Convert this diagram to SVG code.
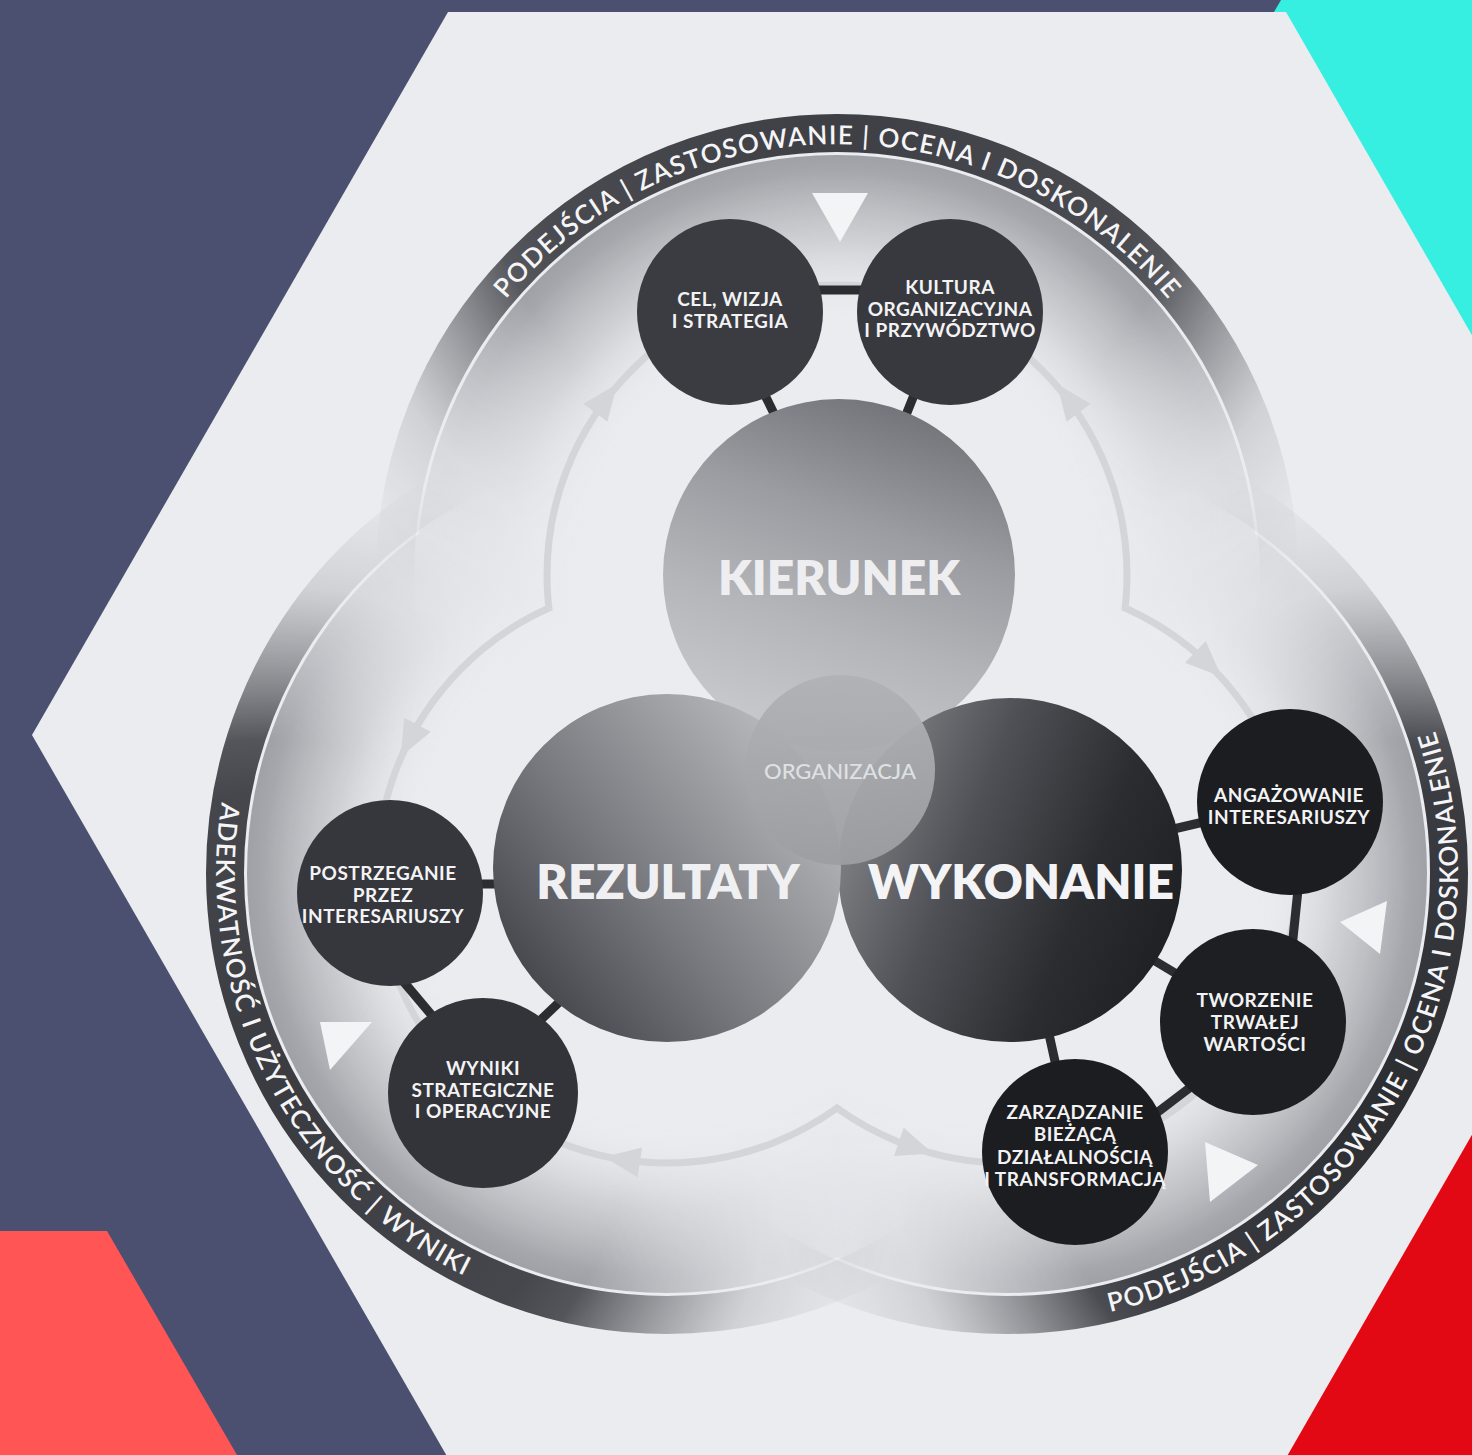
<svg xmlns="http://www.w3.org/2000/svg" width="1472" height="1455" viewBox="0 0 1472 1455">
<defs>
<style>
.lbl{font-family:Lato,"Liberation Sans",sans-serif;font-weight:700;fill:#f3f3f5;text-anchor:middle;font-size:19px;letter-spacing:0.5px}
.big{font-family:Lato,"Liberation Sans",sans-serif;font-weight:800;text-anchor:middle;font-size:48px}
.ring{font-family:Lato,"Liberation Sans",sans-serif;font-weight:600;fill:#f5f5f7;font-size:26px}
.con{stroke:#2c2d31;stroke-width:9;stroke-linecap:butt}
.cyc{fill:none;stroke:#d3d5d9;stroke-width:7}
.ah{fill:#d3d5d9}
.tri{fill:#f3f4f6}
.band{fill:none;stroke-width:38}
</style>
<clipPath id="cellT"><polygon points="837,774 -29,274 -29,-200 1703,-200 1703,274"/></clipPath>
<clipPath id="cellL"><polygon points="837,774 -29,274 -29,1700 837,1700"/></clipPath>
<clipPath id="cellR"><polygon points="837,774 837,1700 1703,1700 1703,274"/></clipPath>
<radialGradient id="gInT" gradientUnits="userSpaceOnUse" cx="837" cy="575" r="420"><stop offset="0.6" stop-color="#ebecf0" stop-opacity="0"/><stop offset="0.8" stop-color="#c4c6ca" stop-opacity="0.75"/><stop offset="0.96" stop-color="#a5a7ac"/><stop offset="1" stop-color="#9fa1a6"/></radialGradient>
<radialGradient id="gInL" gradientUnits="userSpaceOnUse" cx="667" cy="873" r="420"><stop offset="0.6" stop-color="#ebecf0" stop-opacity="0"/><stop offset="0.8" stop-color="#c4c6ca" stop-opacity="0.75"/><stop offset="0.96" stop-color="#a5a7ac"/><stop offset="1" stop-color="#9fa1a6"/></radialGradient>
<radialGradient id="gInR" gradientUnits="userSpaceOnUse" cx="1007" cy="873" r="420"><stop offset="0.6" stop-color="#ebecf0" stop-opacity="0"/><stop offset="0.8" stop-color="#c4c6ca" stop-opacity="0.75"/><stop offset="0.96" stop-color="#a5a7ac"/><stop offset="1" stop-color="#9fa1a6"/></radialGradient>
<radialGradient id="gBandT" gradientUnits="userSpaceOnUse" cx="837" cy="112" r="620"><stop offset="0" stop-color="#3e3f44"/><stop offset="0.5" stop-color="#4a4b50"/><stop offset="0.75" stop-color="#6f7176"/><stop offset="1" stop-color="#a9abb0"/></radialGradient>
<radialGradient id="gBandL" gradientUnits="userSpaceOnUse" cx="269" cy="1103" r="620"><stop offset="0" stop-color="#3a3b40"/><stop offset="0.5" stop-color="#46474c"/><stop offset="0.75" stop-color="#6f7176"/><stop offset="1" stop-color="#a9abb0"/></radialGradient>
<radialGradient id="gBandR" gradientUnits="userSpaceOnUse" cx="1405" cy="1103" r="620"><stop offset="0" stop-color="#2c2d31"/><stop offset="0.5" stop-color="#3b3c41"/><stop offset="0.75" stop-color="#6a6c71"/><stop offset="1" stop-color="#a9abb0"/></radialGradient>
<radialGradient id="gMT" gradientUnits="userSpaceOnUse" cx="837" cy="112" r="700"><stop offset="0" stop-color="#fff"/><stop offset="0.52" stop-color="#fff"/><stop offset="0.62" stop-color="#fff" stop-opacity="0.65"/><stop offset="0.74" stop-color="#fff" stop-opacity="0.25"/><stop offset="0.86" stop-color="#fff" stop-opacity="0.1"/><stop offset="0.91" stop-color="#fff" stop-opacity="0.01"/><stop offset="1" stop-color="#fff" stop-opacity="0"/></radialGradient>
<radialGradient id="gML" gradientUnits="userSpaceOnUse" cx="269" cy="1103" r="700"><stop offset="0" stop-color="#fff"/><stop offset="0.52" stop-color="#fff"/><stop offset="0.62" stop-color="#fff" stop-opacity="0.65"/><stop offset="0.74" stop-color="#fff" stop-opacity="0.25"/><stop offset="0.86" stop-color="#fff" stop-opacity="0.1"/><stop offset="0.91" stop-color="#fff" stop-opacity="0.01"/><stop offset="1" stop-color="#fff" stop-opacity="0"/></radialGradient>
<radialGradient id="gMR" gradientUnits="userSpaceOnUse" cx="1405" cy="1103" r="700"><stop offset="0" stop-color="#fff"/><stop offset="0.52" stop-color="#fff"/><stop offset="0.62" stop-color="#fff" stop-opacity="0.65"/><stop offset="0.74" stop-color="#fff" stop-opacity="0.25"/><stop offset="0.86" stop-color="#fff" stop-opacity="0.1"/><stop offset="0.91" stop-color="#fff" stop-opacity="0.01"/><stop offset="1" stop-color="#fff" stop-opacity="0"/></radialGradient>
<mask id="mT" maskUnits="userSpaceOnUse" x="0" y="0" width="1472" height="1455"><rect x="0" y="0" width="1472" height="1455" fill="url(#gMT)"/></mask>
<mask id="mL" maskUnits="userSpaceOnUse" x="0" y="0" width="1472" height="1455"><rect x="0" y="0" width="1472" height="1455" fill="url(#gML)"/></mask>
<mask id="mR" maskUnits="userSpaceOnUse" x="0" y="0" width="1472" height="1455"><rect x="0" y="0" width="1472" height="1455" fill="url(#gMR)"/></mask>
<linearGradient id="gKier" x1="0.7" y1="0" x2="0.35" y2="1"><stop offset="0" stop-color="#6f7177"/><stop offset="0.35" stop-color="#9a9ca1"/><stop offset="0.65" stop-color="#b3b5b9"/><stop offset="1" stop-color="#c9cbce"/></linearGradient>
<linearGradient id="gRez" x1="0.05" y1="0.85" x2="0.85" y2="0.2"><stop offset="0" stop-color="#3f4146"/><stop offset="0.45" stop-color="#76787d"/><stop offset="1" stop-color="#b2b4b8"/></linearGradient>
<linearGradient id="gWyk" x1="0" y1="0.3" x2="1" y2="0.7"><stop offset="0" stop-color="#85878b"/><stop offset="0.35" stop-color="#4f5156"/><stop offset="0.7" stop-color="#2c2d31"/><stop offset="1" stop-color="#1e1f22"/></linearGradient>
<linearGradient id="gOrg" x1="0" y1="0" x2="0" y2="1"><stop offset="0" stop-color="#b0b2b6"/><stop offset="1" stop-color="#9c9ea2"/></linearGradient>
<path id="pTop" d="M 406 575 A 431 431 0 0 1 1268 575"/>
<path id="pLeft" d="M 382.6 523 A 451 451 0 0 0 784.5 1308.4"/>
<path id="pRight" d="M 873.6 1303.8 A 451 451 0 0 0 1304.1 533.7"/>
<polygon id="arrowHead" points="20,0 -16,-15 -16,15"/>
</defs>

<g id="background">
<rect x="0" y="0" width="1472" height="1455" fill="#4b5070"/>
<polygon points="1281,0 1472,0 1472,600 1274,12" fill="#37efe0"/>
<polygon points="1472,1100 1472,1455 1250,1455" fill="#e20914"/>
<polygon points="0,1231 107,1231 237,1455 0,1455" fill="#ff5555"/>
<polygon points="448,12 1286,12 1702,735 1286,1458 448,1458 32,735" fill="#ebecf0"/>
</g>

<g id="outer-ring">
<g mask="url(#mT)"><circle cx="837" cy="575" r="420" fill="url(#gInT)" clip-path="url(#cellT)"/></g>
<g mask="url(#mL)"><circle cx="667" cy="873" r="420" fill="url(#gInL)" clip-path="url(#cellL)"/></g>
<g mask="url(#mR)"><circle cx="1007" cy="873" r="420" fill="url(#gInR)" clip-path="url(#cellR)"/></g>
<g mask="url(#mT)"><circle class="band" cx="837" cy="575" r="442" stroke="url(#gBandT)"/></g>
<g mask="url(#mL)"><circle class="band" cx="667" cy="873" r="442" stroke="url(#gBandL)"/></g>
<g mask="url(#mR)"><circle class="band" cx="1007" cy="873" r="442" stroke="url(#gBandR)"/></g>
<text class="ring"><textPath href="#pTop" startOffset="50%" text-anchor="middle" textLength="755" lengthAdjust="spacing">PODEJŚCIA | ZASTOSOWANIE | OCENA I DOSKONALENIE</textPath></text>
<text class="ring"><textPath href="#pLeft" startOffset="50%" text-anchor="middle" textLength="569" lengthAdjust="spacing">ADEKWATNOŚĆ I UŻYTECZNOŚĆ | WYNIKI</textPath></text>
<text class="ring"><textPath href="#pRight" startOffset="50%" text-anchor="middle" textLength="749" lengthAdjust="spacing">PODEJŚCIA | ZASTOSOWANIE | OCENA I DOSKONALENIE</textPath></text>
<polygon class="tri" points="812,193 868,193 840,242"/>
<polygon class="tri" points="320,1022 372,1022 330,1070"/>
<polygon class="tri" points="1340,922 1387,901 1380,954"/>
<polygon class="tri" points="1205,1142 1258,1165 1210,1202"/>
</g>

<g id="cycle-arrows">
<circle class="cyc" cx="837" cy="575" r="290" clip-path="url(#cellT)"/>
<circle class="cyc" cx="667" cy="873" r="290" clip-path="url(#cellL)"/>
<circle class="cyc" cx="1007" cy="873" r="290" clip-path="url(#cellR)"/>
<use href="#arrowHead" class="ah" transform="translate(605,400) rotate(-53)"/>
<use href="#arrowHead" class="ah" transform="translate(1069,400) rotate(233)"/>
<use href="#arrowHead" class="ah" transform="translate(410,739) rotate(117.6)"/>
<use href="#arrowHead" class="ah" transform="translate(624,1160) rotate(188.6)"/>
<use href="#arrowHead" class="ah" transform="translate(1207,663) rotate(43.6)"/>
<use href="#arrowHead" class="ah" transform="translate(914,1147) rotate(18.8)"/>
</g>

<g id="connectors">
<line class="con" x1="800" y1="290" x2="880" y2="290"/>
<line class="con" x1="760" y1="385" x2="782" y2="430"/>
<line class="con" x1="918" y1="385" x2="900" y2="430"/>
<line class="con" x1="470" y1="884" x2="510" y2="884"/>
<line class="con" x1="392" y1="968" x2="440" y2="1025"/>
<line class="con" x1="528" y1="1032" x2="572" y2="990"/>
<line class="con" x1="1165" y1="831" x2="1212" y2="820"/>
<line class="con" x1="1299" y1="880" x2="1292" y2="948"/>
<line class="con" x1="1145" y1="955" x2="1190" y2="982"/>
<line class="con" x1="1047" y1="1025" x2="1058" y2="1075"/>
<line class="con" x1="1150" y1="1118" x2="1200" y2="1080"/>
</g>

<g id="node-kierunek"><circle cx="839" cy="575" r="176" fill="url(#gKier)"/><text class="big" x="839" y="595" fill="#eeeef0">KIERUNEK</text></g>
<g id="node-wykonanie"><circle cx="1010" cy="870" r="172" fill="url(#gWyk)"/></g>
<g id="node-rezultaty"><circle cx="667" cy="868" r="174" fill="url(#gRez)"/><text class="big" x="668" y="899" fill="#f0f0f2">REZULTATY</text></g>
<text class="big" x="1021" y="899" fill="#f4f4f6">WYKONANIE</text>
<g id="node-organizacja"><circle cx="840" cy="770" r="95" fill="url(#gOrg)" opacity="0.95"/><text x="840" y="779" text-anchor="middle" font-family="Lato,'Liberation Sans',sans-serif" font-size="22" font-weight="500" fill="#dfe0e3">ORGANIZACJA</text></g>

<g id="node-cel"><circle cx="730" cy="312" r="93" fill="#3b3c41"/><text class="lbl" x="730" y="306">CEL, WIZJA<tspan x="730" dy="22">I STRATEGIA</tspan></text></g>
<g id="node-kultura"><circle cx="950" cy="312" r="93" fill="#38393e"/><text class="lbl" x="950" y="294">KULTURA<tspan x="950" dy="21.5">ORGANIZACYJNA</tspan><tspan x="950" dy="21.5">I PRZYWÓDZTWO</tspan></text></g>
<g id="node-angazowanie"><circle cx="1290" cy="802" r="93" fill="#1c1d20"/><text class="lbl" x="1289" y="802">ANGAŻOWANIE<tspan x="1289" dy="21.5">INTERESARIUSZY</tspan></text></g>
<g id="node-tworzenie"><circle cx="1253" cy="1022" r="93" fill="#1e1f22"/><text class="lbl" x="1255" y="1007">TWORZENIE<tspan x="1255" dy="22">TRWAŁEJ</tspan><tspan x="1255" dy="22">WARTOŚCI</tspan></text></g>
<g id="node-zarzadzanie"><circle cx="1075" cy="1152" r="93" fill="#1c1d21"/><text class="lbl" x="1075" y="1119">ZARZĄDZANIE<tspan x="1075" dy="22.3">BIEŻĄCĄ</tspan><tspan x="1075" dy="22.3">DZIAŁALNOŚCIĄ</tspan><tspan x="1075" dy="22.3">I TRANSFORMACJĄ</tspan></text></g>
<g id="node-postrzeganie"><circle cx="390" cy="893" r="93" fill="#36373c"/><text class="lbl" x="383" y="880">POSTRZEGANIE<tspan x="383" dy="21.5">PRZEZ</tspan><tspan x="383" dy="21.5">INTERESARIUSZY</tspan></text></g>
<g id="node-wyniki"><circle cx="483" cy="1093" r="95" fill="#333439"/><text class="lbl" x="483" y="1075">WYNIKI<tspan x="483" dy="21.5">STRATEGICZNE</tspan><tspan x="483" dy="21.5">I OPERACYJNE</tspan></text></g>
</svg>
